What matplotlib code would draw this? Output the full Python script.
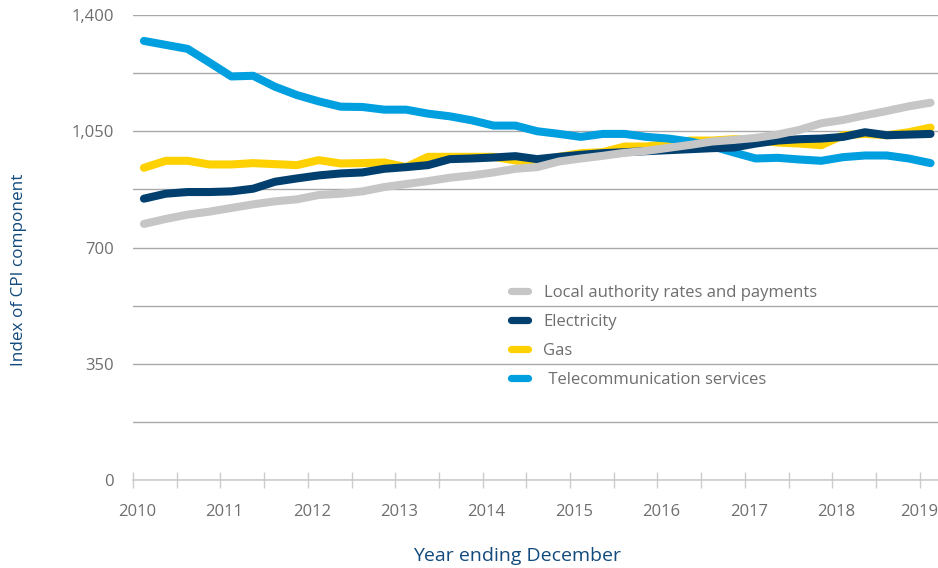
import numpy as np
import matplotlib
matplotlib.use("Agg")
import matplotlib.pyplot as plt
from matplotlib.transforms import ScaledTranslation

plt.rcParams['font.family'] = ['Open Sans', 'DejaVu Sans']

# Quarterly index values, first quarter of 2010 onward
quarters = np.arange(37)

local_authority = [771, 786, 799, 808, 819, 830, 839, 845, 858, 862,
                   869, 882, 891, 900, 910, 917, 926, 937, 942, 959,
                   968, 976, 985, 991, 1000, 1009, 1019, 1024, 1030, 1040,
                   1054, 1074, 1084, 1098, 1111, 1125, 1136]
electricity = [847, 862, 867, 867, 869, 877, 898, 908, 917, 923,
               926, 937, 942, 948, 966, 968, 971, 975, 966, 973,
               979, 984, 987, 990, 993, 996, 999, 1001, 1013, 1022,
               1026, 1028, 1033, 1047, 1038, 1040, 1042]
gas = [940, 961, 961, 950, 950, 954, 951, 948, 963, 953,
       954, 956, 942, 973, 973, 973, 973, 962, 955, 973,
       984, 987, 1004, 1004, 1013, 1022, 1022, 1026, 1024, 1016,
       1013, 1008, 1038, 1042, 1038, 1047, 1061]
telecom = [1322, 1310, 1298, 1257, 1215, 1217, 1184, 1159, 1140, 1124,
           1123, 1115, 1115, 1103, 1095, 1083, 1067, 1067, 1050, 1042,
           1033, 1042, 1042, 1033, 1028, 1019, 1005, 986, 968, 970,
           965, 961, 972, 977, 977, 968, 954]

series_names = ['Local authority rates and payments', 'Electricity', 'Gas',
                ' Telecommunication services']
year_labels = [str(y) for y in range(2010, 2020)]

c_local = '#c6c6c6'
c_elec = '#003f6e'
c_gas = '#ffd100'
c_tele = '#009fe0'
c_text = '#6e6e6e'
c_title = '#124a7c'

W, H = 938, 568
fig = plt.figure(figsize=(W / 100, H / 100), dpi=100)
left_px, right_px, top_px, bot_px = 133, 938, 15, 480
ax = fig.add_axes([left_px / W, 1 - bot_px / H, (right_px - left_px) / W,
                   (bot_px - top_px) / H])

x = 2010 + (quarters + 0.5) / 4.0
lw = 5.8
kw = dict(linewidth=lw, solid_capstyle='round', solid_joinstyle='round')
h_gas, = ax.plot(x, gas, color=c_gas, zorder=2, **kw)
h_tele, = ax.plot(x, telecom, color=c_tele, zorder=3, **kw)
h_elec, = ax.plot(x, electricity, color=c_elec, zorder=4, **kw)
h_local, = ax.plot(x, local_authority, color=c_local, zorder=5, **kw)

year_px = 87.4
ax.set_xlim(2010, 2010 + (right_px - left_px) / year_px)
ax.set_ylim(0, 1400)

# y axis: labels every 350, gridlines every 175
ax.set_yticks(np.arange(0, 1401, 350))
ax.set_yticks(np.arange(0, 1401, 175), minor=True)
ax.set_yticklabels([f'{v:,}' for v in range(0, 1401, 350)])
ax.grid(axis='y', which='both', color='#a9a9a9', linewidth=1.0, zorder=0)
ax.set_axisbelow(True)
ax.tick_params(axis='y', which='both', length=0, pad=14, labelsize=12,
               labelcolor=c_text)

# x axis: year labels with half-year tick marks
ax.set_xticks(np.arange(2010, 2020, 1.0))
ax.set_xticks(np.arange(2010, 2019.3, 0.5), minor=True)
ax.set_xticklabels(year_labels)
ax.tick_params(axis='x', which='both', direction='inout', length=12,
               width=1, color='#cccccc', labelsize=12, labelcolor=c_text,
               pad=11)
shift = ScaledTranslation(4 / 100, 0, fig.dpi_scale_trans)
for lab in ax.get_xticklabels()[:-1]:
    lab.set_transform(lab.get_transform() + shift)

for s in ['top', 'right', 'left']:
    ax.spines[s].set_visible(False)
ax.spines['bottom'].set_color('#cccccc')
ax.spines['bottom'].set_linewidth(1.2)
ax.spines['bottom'].set_zorder(1)

fig.text(517 / W, 1 - 556 / H, 'Year ending December', ha='center',
         va='center', fontsize=14, color=c_title)
fig.text(19 / W, 1 - 270 / H, 'Index of CPI component', ha='center',
         va='center', rotation=90, fontsize=12.3, color=c_title)

leg = ax.legend([h_local, h_elec, h_gas, h_tele], series_names,
                loc='upper left',
                bbox_to_anchor=(511 / W, 1 - 285 / H),
                bbox_transform=fig.transFigure,
                frameon=False, fontsize=12, handlelength=1.0,
                handletextpad=0.95, labelspacing=0.78, borderpad=0,
                borderaxespad=0)
for t in leg.get_texts():
    t.set_color(c_text)
for lh in leg.get_lines():
    lh.set_linewidth(5.2)
    lh.set_solid_capstyle('round')

fig.savefig('out.png', dpi=100)
